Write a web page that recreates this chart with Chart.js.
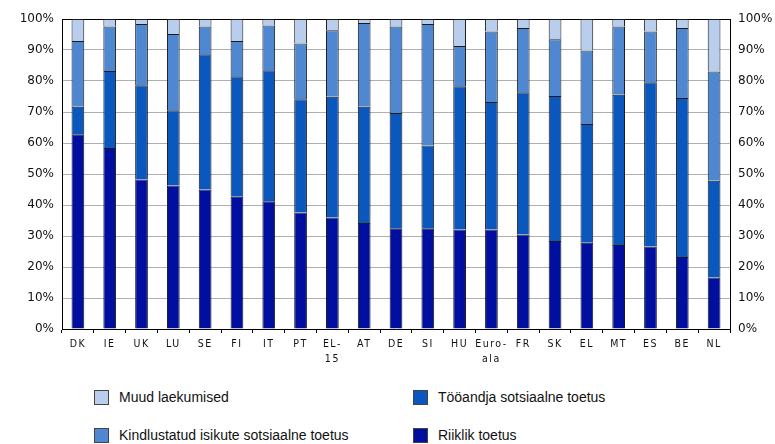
<!DOCTYPE html>
<html>
<head>
<meta charset="utf-8">
<script src="https://cdn.jsdelivr.net/npm/chart.js@4/dist/chart.umd.min.js"></script>
<style>
  body { margin: 0; background: #fff; }
  #wrap { position: relative; width: 775px; height: 444px; }
  #chart { position: absolute; left: 0; top: 0; }
  .item { position: absolute; font: 14px "Liberation Sans", Arial, sans-serif; color: #111; }
  .item span.box { position: absolute; left: 0; top: 0; width: 13px; height: 13px; border: 1px solid #444; }
  .item span.txt { position: absolute; left: 25px; top: -1px; white-space: nowrap; }
</style>
</head>
<body>
<div id="wrap">
  <canvas id="chart" width="775" height="370"></canvas>
  <div id="legend"></div>
</div>
<script>
const countries = ['DK', 'IE', 'UK', 'LU', 'SE', 'FI', 'IT', 'PT', ['EL-', '15'], 'AT', 'DE', 'SI', 'HU',
  ['Euro-', 'ala'], 'FR', 'SK', 'EL', 'MT', 'ES', 'BE', 'NL'];

// shares in %, bottom to top
const riiklik      = [62.8, 58.4, 48.2, 46.3, 45.0, 42.7, 41.2, 37.6, 36.0, 34.2, 32.5, 32.5, 32.1, 32.1, 30.5, 28.4, 27.8, 27.1, 26.6, 23.2, 16.6];
const tooandja     = [ 8.9, 24.8, 30.4, 24.3, 43.6, 38.8, 42.3, 36.5, 38.9, 37.5, 37.2, 26.7, 46.2, 41.1, 45.9, 46.8, 38.3, 48.5, 53.0, 51.3, 31.2];
const kindlustatud = [21.2, 14.4, 19.8, 24.6,  9.0, 11.4, 14.4, 18.0, 21.5, 27.0, 27.9, 39.2, 13.0, 22.8, 20.7, 18.3, 23.7, 22.0, 16.4, 22.6, 35.3];
const muud         = [ 7.1,  2.4,  1.6,  4.8,  2.4,  7.1,  2.1,  7.9,  3.6,  1.3,  2.4,  1.6,  8.7,  4.0,  2.9,  6.5, 10.2,  2.4,  4.0,  2.9, 16.9];

const yTicks = [0, 10, 20, 30, 40, 50, 60, 70, 80, 90, 100];

const series = [
  { label: 'Riiklik toetus', data: riiklik, color: '#000f9f' },
  { label: 'Tööandja sotsiaalne toetus', data: tooandja, color: '#0a57bd' },
  { label: 'Kindlustatud isikute sotsiaalne toetus', data: kindlustatud, color: '#4f87d1' },
  { label: 'Muud laekumised', data: muud, color: '#b9cded' }
];

// x labels are spaced out in the original (they are drawn after the bars, see ticks.z)
const spacing = {
  id: 'spacing',
  afterDatasetsDraw(chart) { chart.ctx.letterSpacing = '1.5px'; },
  afterDraw(chart) { chart.ctx.letterSpacing = '0px'; }
};

const tickFont = { family: 'DejaVu Sans', size: 12 };

new Chart(document.getElementById('chart'), {
  type: 'bar',
  data: {
    labels: countries,
    datasets: series.map(s => ({
      label: s.label,
      data: s.data,
      backgroundColor: s.color,
      borderColor: '#1a1a1a',
      borderWidth: 1,
      barPercentage: 0.4,
      categoryPercentage: 1
    }))
  },
  options: {
    responsive: false,
    animation: false,
    layout: { padding: { top: 19 } },
    plugins: { legend: { display: false }, tooltip: { enabled: false } },
    scales: {
      x: {
        stacked: true,
        grid: { display: true, drawOnChartArea: false, drawTicks: true, tickLength: 4, color: '#000', offset: true },
        border: { color: '#000', z: 1 },
        ticks: { z: 1, color: '#111', padding: 3, maxRotation: 0, autoSkip: false,
          font: { family: 'DejaVu Sans Condensed', size: 10.5, lineHeight: 1.5 } },
        afterFit(scale) { scale.height = 41; }
      },
      y: {
        stacked: true,
        min: 0, max: 100,
        afterBuildTicks(scale) { scale.ticks = yTicks.map(v => ({ value: v })); },
        grid: {
          drawTicks: false,
          color: ctx => ctx.tick && ctx.tick.value === 100 ? '#000' : '#b0b0b0'
        },
        border: { color: '#000' },
        ticks: { color: '#111', padding: 8, font: tickFont, callback: v => v + '%' },
        afterFit(scale) { scale.width = 62; }
      },
      y2: {
        position: 'right',
        min: 0, max: 100,
        afterBuildTicks(scale) { scale.ticks = yTicks.map(v => ({ value: v })); },
        grid: { drawOnChartArea: false, drawTicks: false },
        border: { color: '#000' },
        ticks: { color: '#111', padding: 8, font: tickFont, callback: v => v + '%' },
        afterFit(scale) { scale.width = 45; }
      }
    }
  },
  plugins: [spacing]
});

// legend, two columns
const legendPos = [
  { s: 3, x: 94, y: 390 },
  { s: 1, x: 413, y: 390 },
  { s: 2, x: 94, y: 428 },
  { s: 0, x: 413, y: 428 }
];
const legend = document.getElementById('legend');
legendPos.forEach(p => {
  const el = document.createElement('div');
  el.className = 'item';
  el.style.left = p.x + 'px';
  el.style.top = p.y + 'px';
  el.innerHTML = '<span class="box" style="background:' + series[p.s].color + '"></span><span class="txt">' + series[p.s].label + '</span>';
  legend.appendChild(el);
});
</script>
</body>
</html>
